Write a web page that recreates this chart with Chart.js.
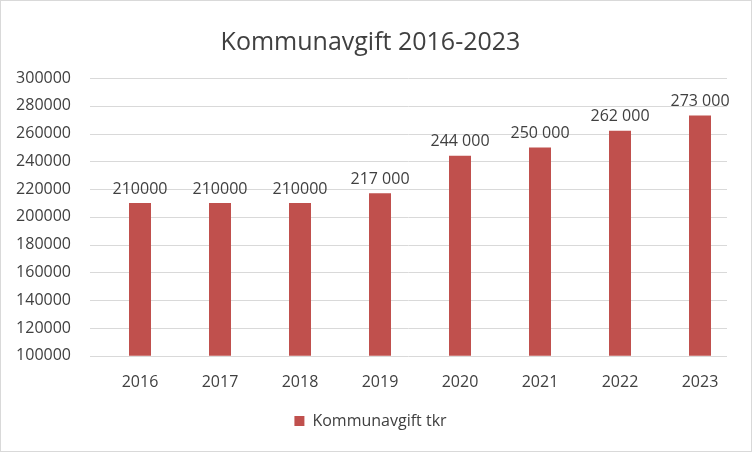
<!DOCTYPE html>
<html><head><meta charset="utf-8">
<script src="https://cdn.jsdelivr.net/npm/chart.js@4/dist/chart.umd.min.js"></script>
<style>html,body{margin:0;padding:0;background:#fff}#wrap{position:relative;width:752px;height:452px;box-sizing:border-box;border:1px solid #d9d9d9}</style>
</head><body>
<div id="wrap"><canvas id="c" width="750" height="450"></canvas></div>
<script>
const years = ['2016','2017','2018','2019','2020','2021','2022','2023'];
const values = [210000,210000,210000,217000,244000,250000,262000,273000];
const valueLabels = ['210000','210000','210000','217 000','244 000','250 000','262 000','273 000'];
const seriesName = 'Kommunavgift tkr';
const chartTitle = 'Kommunavgift 2016-2023';
const FONT = '"Open Sans", sans-serif';

const gridPlugin = {
  id:'grid',
  beforeDatasetsDraw(chart){
    const ctx = chart.ctx, ys = chart.scales.y, a = chart.chartArea;
    ctx.save();
    ctx.strokeStyle = '#d9d9d9';
    ctx.lineWidth = 1;
    ys.ticks.forEach(t=>{
      const y = Math.round(ys.getPixelForValue(t.value)) + 0.5;
      ctx.beginPath(); ctx.moveTo(a.left - 10, y); ctx.lineTo(a.right - 13, y); ctx.stroke();
    });
    ctx.restore();
  }
};

const labelPlugin = {
  id:'vlabels',
  afterDatasetsDraw(chart){
    const ctx = chart.ctx;
    const meta = chart.getDatasetMeta(0);
    ctx.save();
    ctx.font = '16px ' + FONT;
    ctx.fillStyle = '#404040';
    ctx.textAlign = 'center';
    ctx.textBaseline = 'bottom';
    meta.data.forEach((b,i)=>{ ctx.fillText(valueLabels[i], b.x, b.y - 6); });
    ctx.restore();
  }
};

new Chart(document.getElementById('c'), {
  type:'bar',
  data:{labels:years, datasets:[{label:seriesName, data:values, backgroundColor:'#C0504D', barPercentage:0.275, categoryPercentage:1}]},
  options:{
    responsive:false, animation:false,
    layout:{padding:{left:0,right:11,top:19,bottom:12}},
    plugins:{
      title:{display:true, text:chartTitle, font:{family:FONT, size:25, weight:'normal'}, color:'#404040', padding:{top:8,bottom:20}},
      legend:{position:'bottom', labels:{font:{family:FONT, size:16}, color:'#404040', boxWidth:10, boxHeight:10, padding:12}},
      tooltip:{enabled:false}
    },
    scales:{
      x:{grid:{display:false}, border:{display:false}, ticks:{font:{family:FONT, size:16}, color:'#404040', padding:9}},
      y:{min:100000, max:300000, afterFit:s=>{s.width=99;}, ticks:{stepSize:20000, font:{family:FONT, size:16}, color:'#404040', padding:21, callback:v=>String(v)},
         grid:{display:false}, border:{display:false}}
    }
  },
  plugins:[gridPlugin, labelPlugin]
});
</script>
</body></html>
